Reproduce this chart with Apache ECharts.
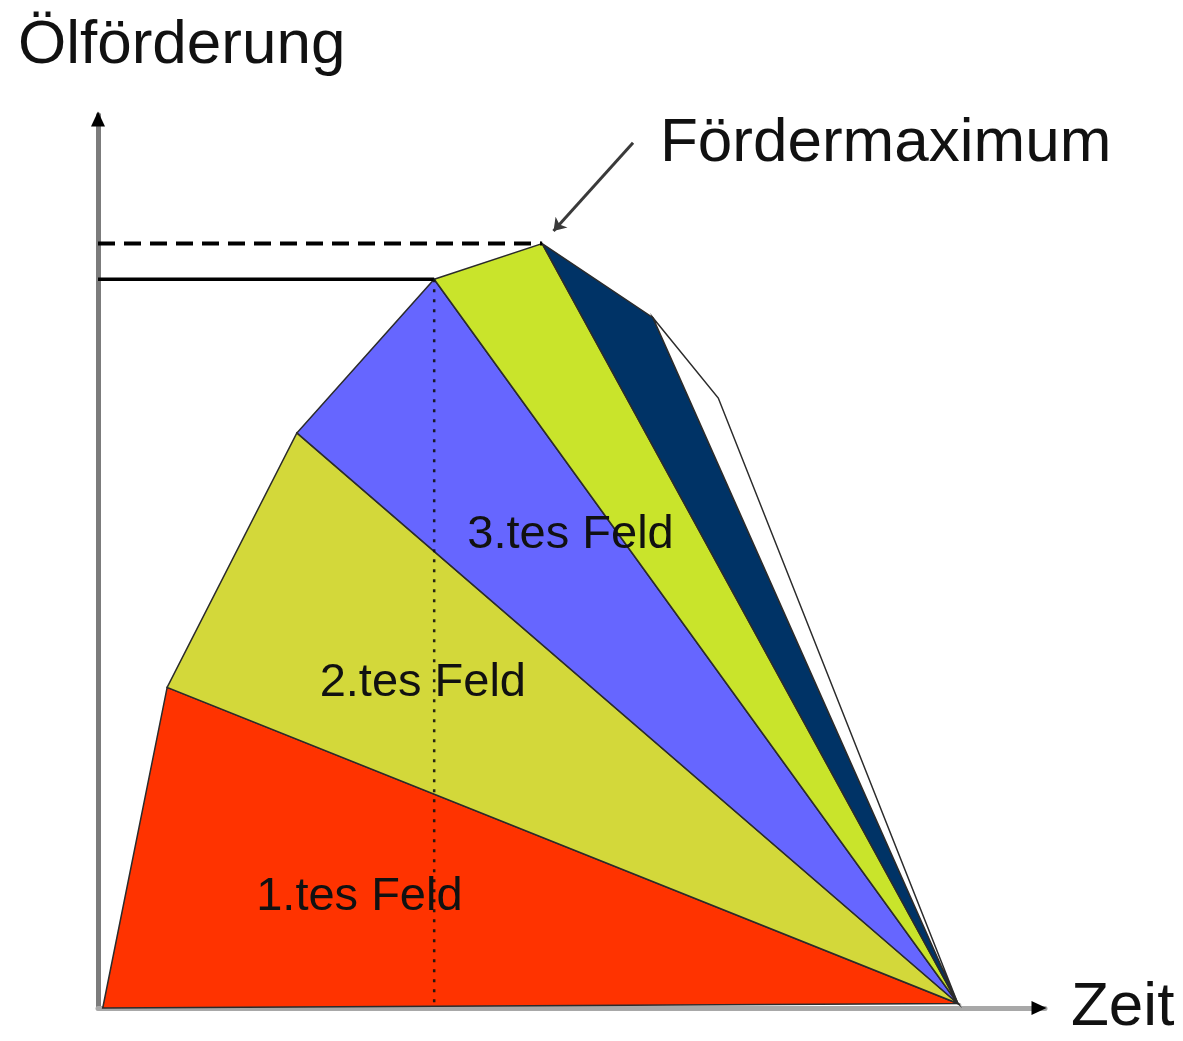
<!DOCTYPE html>
<html>
<head>
<meta charset="utf-8">
<script src="https://cdn.jsdelivr.net/npm/echarts@6/dist/echarts.min.js"></script>
<style>
  html, body { margin: 0; padding: 0; background: #fff; }
  #main { width: 1183px; height: 1041px; }
</style>
</head>
<body>
<div id="main"></div>
<script>
// envelope of the production curve (time, output), last point closes the fan
const peakTime = [0.5, 7.3, 21.0, 35.5, 46.9, 58.6, 65.5];
const peakOutput = [0, 35.9, 64.4, 81.6, 85.6, 77.3, 68.3];
const endPoint = [90.8, 0.5];

const fieldNames = ['1.tes Feld', '2.tes Feld', '3.tes Feld'];
const labelTime = [27.6, 34.3, 49.9];
const labelOutput = [12.4, 36.4, 53.0];

const arrowFrom = [56.5, 96.9];
const arrowTo = [48.1, 87.0];

const fieldColors = ['#ff3300', '#d3d83a', '#6666ff', '#c9e42b', '#003366', '#ffffff'];
const font = "'Liberation Sans', Arial, sans-serif";

let fields = [];
for (let i = 0; i < peakTime.length - 1; i++) {
  fields.push([peakTime[i], peakOutput[i], peakTime[i + 1], peakOutput[i + 1], endPoint[0], endPoint[1]]);
}
let labels = fieldNames.map((n, i) => [labelTime[i], labelOutput[i], n]);

let chart = echarts.init(document.getElementById('main'));
chart.setOption({
  animation: false,
  grid: { left: 98, right: 138, top: 115, bottom: 33, containLabel: false, outerBoundsMode: 'none' },
  xAxis: {
    type: 'value', min: 0, max: 100,
    axisLine: { show: true, lineStyle: { color: '#a8a8a8', width: 5 } },
    axisTick: { show: false }, axisLabel: { show: false }, splitLine: { show: false },
    name: 'Zeit', nameLocation: 'end', nameGap: 26, nameMoveOverlap: false,
    nameTextStyle: { fontSize: 62, color: '#111', fontFamily: font, verticalAlign: 'middle', align: 'left', padding: [24, 0, 0, 0] }
  },
  yAxis: {
    type: 'value', min: 0, max: 100,
    axisLine: { show: true, lineStyle: { color: '#7c7c7c', width: 5 } },
    axisTick: { show: false }, axisLabel: { show: false }, splitLine: { show: false }
  },
  graphic: [
    { type: 'text', x: 18, y: 46, style: { text: 'Ölförderung', font: '62px ' + font, fill: '#111', verticalAlign: 'middle' } },
    { type: 'text', x: 660, y: 144, style: { text: 'Fördermaximum', font: '62px ' + font, fill: '#111', verticalAlign: 'middle' } }
  ],
  series: [
    {
      type: 'custom',
      data: fields,
      encode: { x: [0, 2, 4], y: [1, 3, 5] },
      clip: false,
      renderItem: function (params, api) {
        let a = api.coord([api.value(0), api.value(1)]);
        let b = api.coord([api.value(2), api.value(3)]);
        let c = api.coord([api.value(4), api.value(5)]);
        return {
          type: 'polygon',
          shape: { points: [a, b, c] },
          style: { fill: fieldColors[params.dataIndex], stroke: '#2b2b2b', lineWidth: 1.5 }
        };
      },
      z: 2
    },
    {
      type: 'line', symbol: 'none', z: 3,
      data: [[0, peakOutput[4]], [peakTime[4], peakOutput[4]]],
      lineStyle: { color: '#000', width: 4, type: [17, 9] }
    },
    {
      type: 'line', symbol: 'none', z: 3,
      data: [[0, peakOutput[3]], [peakTime[3], peakOutput[3]]],
      lineStyle: { color: '#000', width: 3.5 }
    },
    {
      type: 'line', symbol: 'none', z: 3,
      data: [[peakTime[3], peakOutput[3]], [peakTime[3], 0]],
      lineStyle: { color: '#111', width: 2.5, type: [3, 7], opacity: 0.9 }
    },
    {
      type: 'lines', coordinateSystem: 'cartesian2d', z: 4,
      symbol: ['none', 'arrow'], symbolSize: 12,
      data: [{ coords: [arrowFrom, arrowTo] }],
      lineStyle: { color: '#3a3a3a', width: 3, opacity: 1 }
    },
    {
      // axis arrow heads
      type: 'scatter', symbol: 'triangle', symbolSize: [14, 15], z: 6, clip: false,
      itemStyle: { color: '#000', opacity: 1 },
      data: [
        { value: [0, 100], symbolRotate: 0, symbolOffset: [0, 4] },
        { value: [100, 0], symbolRotate: -90, symbolOffset: [-6, 0] }
      ],
      silent: true
    },
    {
      type: 'scatter', symbolSize: 0, z: 5,
      itemStyle: { opacity: 1 },
      data: labels,
      label: {
        show: true, position: 'inside', formatter: p => p.value[2],
        fontSize: 47, color: '#111', opacity: 1, fontFamily: font
      }
    }
  ]
});
</script>
</body>
</html>
